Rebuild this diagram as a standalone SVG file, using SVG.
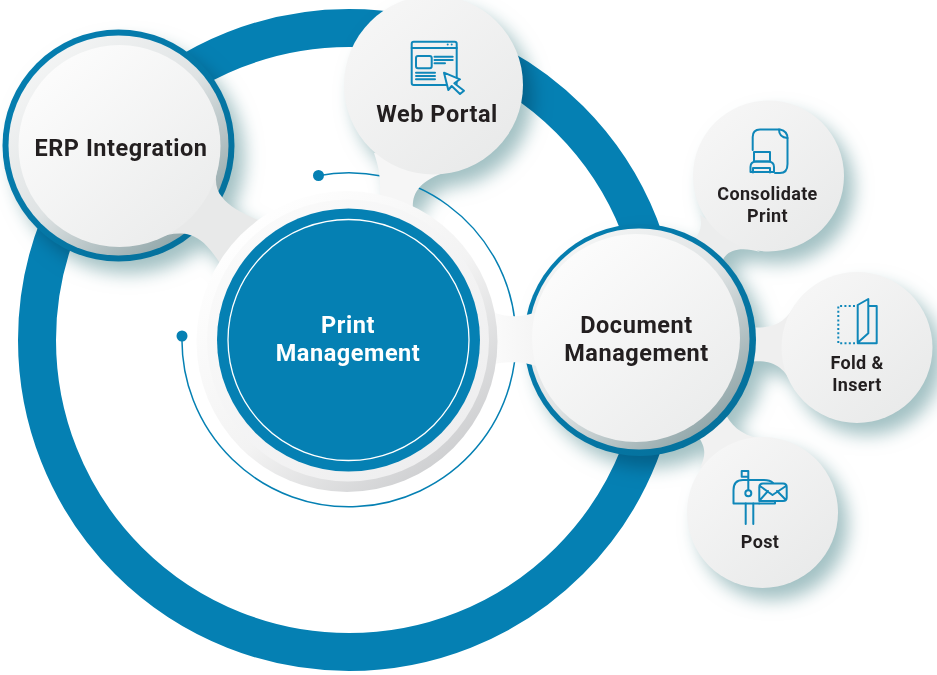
<svg xmlns="http://www.w3.org/2000/svg" width="937" height="675" viewBox="0 0 937 675">
<style>
text{font-family:Roboto,"Liberation Sans",sans-serif;font-weight:700;text-anchor:middle;fill:#231f20}
.big{font-size:23.5px;letter-spacing:.55px}
.small{font-size:18px;letter-spacing:.35px}
.ctr{fill:#fff}
.ic{fill:none;stroke:#0f87b9;stroke-width:2;stroke-linejoin:round;stroke-linecap:round}
</style>
<defs>
<linearGradient id="face" x1="0.15" y1="0.1" x2="0.85" y2="0.9"><stop offset="0" stop-color="#fcfcfc"/><stop offset="1" stop-color="#ebecec"/></linearGradient>
<linearGradient id="smallface" x1="0.15" y1="0.1" x2="0.85" y2="0.9"><stop offset="0" stop-color="#f6f6f6"/><stop offset="1" stop-color="#e9eaea"/></linearGradient>
<linearGradient id="doctail" x1="0" y1="0" x2="1" y2="0"><stop offset="0" stop-color="#fbfbfb"/><stop offset="1" stop-color="#f3f3f3"/></linearGradient>
<linearGradient id="bevel" x1="0.15" y1="0.1" x2="0.85" y2="0.9"><stop offset="0" stop-color="#f4f5f5"/><stop offset="0.5" stop-color="#dfe3e4"/><stop offset="1" stop-color="#8fa5a8"/></linearGradient>
<linearGradient id="plate" x1="0.15" y1="0.1" x2="0.85" y2="0.9"><stop offset="0" stop-color="#ffffff"/><stop offset="0.55" stop-color="#f3f3f3"/><stop offset="1" stop-color="#cdced0"/></linearGradient>
<linearGradient id="plate2" x1="0.15" y1="0.1" x2="0.85" y2="0.9"><stop offset="0" stop-color="#fafafa"/><stop offset="1" stop-color="#eeeeef"/></linearGradient>
<linearGradient id="rim" x1="0" y1="0" x2="1" y2="1"><stop offset="0" stop-color="#0580b3"/><stop offset="1" stop-color="#056f99"/></linearGradient>
<filter id="shadow" x="-30%" y="-30%" width="170%" height="170%">
<feGaussianBlur in="SourceAlpha" stdDeviation="9"/><feOffset dx="10" dy="12" result="b"/>
<feFlood flood-color="#98babd" flood-opacity="0.9"/><feComposite in2="b" operator="in"/>
</filter>
<path id="tail-erp" d="M218,167C214,180 216,190 222,197C230,208 245,214 262,222L222,266C212,252 205,240 190,235C180,232 168,234 157,238Z"/>
<path id="tail-web" d="M374,153C378,165 381,175 380,200L413,208C412,195 418,182 443,173C455,171 468,168 478,160Z"/>
<path id="tail-doc" d="M490,311C505,318 525,318 542,310L546,370C530,362 510,360 490,365Z"/>
<path id="tail-con" d="M700,215C703,225 700,235 690,246L722,262C726,250 740,246 760,252Z"/>
<path id="tail-fold" d="M795,305C785,322 775,330 745,327L745,362C775,358 785,368 795,390Z"/>
<path id="tail-post" d="M698,436C706,448 706,455 700,468L770,440C750,438 735,432 726,415Z"/>
</defs>
<rect width="937" height="675" fill="#fff"/>
<circle id="outer-ring" cx="349" cy="340" r="312" fill="none" stroke="#0580b3" stroke-width="38"/>
<g id="shadows" filter="url(#shadow)" style="mix-blend-mode:multiply">
<circle cx="118.500" cy="145.500" r="116"/><use href="#tail-erp"/>
<circle cx="433" cy="85" r="90"/><use href="#tail-web"/>
<circle cx="768.500" cy="176" r="75.500"/><use href="#tail-con"/>
<circle cx="857" cy="347.500" r="75.500"/><use href="#tail-fold"/>
<circle cx="762.500" cy="512.500" r="75.500"/><use href="#tail-post"/>
<circle cx="640" cy="340" r="116"/>
</g>
<g id="connectors">
<path d="M182,336A167,167 0 1 0 318,175.700" fill="none" stroke="#0580b3" stroke-width="1.500"/>
<circle cx="182" cy="336" r="5.500" fill="#0580b3"/>
<circle cx="318.500" cy="175.500" r="5.500" fill="#0580b3"/>
</g>
<g id="node-consolidate">
<use href="#tail-con" fill="#eceded"/>
<circle cx="768.500" cy="176" r="75.500" fill="url(#smallface)"/>
<path class="ic" d="M752.700,150V137Q752.700,129.500 760,129.500H780Q787.500,131 787.500,138.500V164Q787.500,173 780,173H775"/>
<path class="ic" d="M779,129.500Q779,137.500 787.500,138 M754,152H770V161.500H754Z"/>
<path class="ic" d="M750.500,172V167Q750.500,161.500 756,161.500H768Q774,161.500 774,167V172H750.500 M753,172.500V168H770V172.500"/>
<text class="small" x="767.500" y="199.500">Consolidate</text>
<text class="small" x="767.500" y="221.500">Print</text>
</g>
<g id="node-fold">
<use href="#tail-fold" fill="#efefef"/>
<circle cx="857" cy="347.500" r="75.500" fill="url(#smallface)"/>
<path class="ic" d="M857.700,305L868.300,299V333.300L857.700,342.700Z M868.300,306H876.700V343.300H857.700"/>
<path d="M855,306H838.300V343.300H855" fill="none" stroke="#0f87b9" stroke-width="2" stroke-dasharray="2 2.300"/>
<text class="small" x="857" y="369">Fold &amp;</text>
<text class="small" x="857" y="391">Insert</text>
</g>
<g id="node-post">
<use href="#tail-post" fill="#f1f1f1"/>
<circle cx="762.500" cy="512.500" r="75.500" fill="url(#smallface)"/>
<path class="ic" d="M748.300,490V471H741.700V476.700H748.300 M745.700,503.500V524M753.300,503.500V524"/>
<circle class="ic" cx="748.300" cy="493.300" r="3"/>
<path class="ic" d="M759,503.500H733.500V490Q733.500,480 743,480H764Q770,480 773,483"/>
<path class="ic" d="M759.300,487Q759.300,483.500 763,483.500H783Q786.700,483.500 786.700,487V497.500Q786.700,501 783,501H759.300Z M760,486L772.500,495L786,486 M760,500L768,491 M786,500L777,491"/>
<path class="ic" d="M759.300,503.500H775V501"/>
<text class="small" x="760" y="547.500">Post</text>
</g>
<g id="node-erp">
<circle cx="118.500" cy="145.500" r="116" fill="url(#rim)"/>
<circle cx="118.500" cy="145.500" r="110" fill="url(#bevel)"/>
<use href="#tail-erp" fill="#e8e9e9"/>
<circle cx="119.500" cy="146" r="101" fill="url(#face)"/>
<text class="big" x="121" y="156">ERP Integration</text>
</g>
<g id="node-web">
<use href="#tail-web" fill="#f6f6f6"/>
<circle cx="433.500" cy="85" r="89.500" fill="url(#smallface)"/>
<rect class="ic" x="411.700" y="41.700" width="45" height="43.300" rx="2"/>
<path class="ic" d="M411.700,48H456.700 M434.500,56.700H452.700 M434.500,60H452.700 M434.500,63.300H445 M416,72.700H435 M416,76H435 M416,79.300H435"/>
<rect class="ic" x="416" y="56" width="15.700" height="12.300" rx="2"/>
<circle cx="447.700" cy="44.500" r="1" fill="#0f87b9"/><circle cx="451.700" cy="44.500" r="1" fill="#0f87b9"/>
<path class="ic" d="M444,72.700L460,79.300L454.300,83.300L464,90.700L460,94L451.700,86L448.300,90Z" style="fill:#f3f3f3"/>
<text class="big" x="437" y="122">Web Portal</text>
</g>
<g id="node-doc">
<circle cx="640" cy="340" r="116" fill="url(#rim)"/>
<circle cx="639" cy="339" r="110.500" fill="url(#bevel)"/>
<use href="#tail-doc" fill="url(#doctail)"/>
<circle cx="636" cy="338" r="104" fill="url(#face)"/>
<text class="big" x="636.500" y="333">Document</text>
<text class="big" x="636.500" y="360.500">Management</text>
</g>
<g id="node-print">
<circle cx="347" cy="341.500" r="150.500" fill="url(#plate)"/>
<circle cx="348" cy="340.500" r="141" fill="url(#plate2)"/>
<circle cx="348.500" cy="340" r="131.500" fill="#0580b3"/>
<circle cx="348.500" cy="340" r="120.500" fill="none" stroke="#fff" stroke-width="1.300"/>
<text class="big ctr" x="348" y="333">Print</text>
<text class="big ctr" x="348" y="361">Management</text>
</g>
</svg>
